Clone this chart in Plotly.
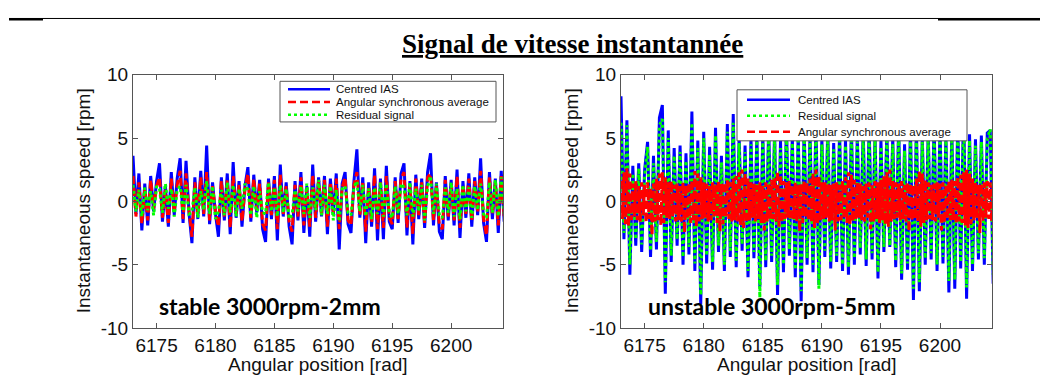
import plotly.graph_objects as go

W, H = 1048, 381
OFF = 8  # the page's body margin shifts the figure by 8 px; targets are given in window pixels

# ---------------- data ----------------
X_START = 6173.0
X_STEP = 0.25        # sampling of the IAS / residual curves and of the left average
X_STEP_FINE = 0.125  # sampling of the right-hand angular synchronous average

LEFT_IAS = [3.6, -1.0, 2.2, -2.3, 1.4, -1.9, 2.0, -0.8, 1.6, 3.0,
            -1.6, 1.2, -2.0, 2.3, -1.1, 1.8, 3.4, -1.7, 3.2, -0.9,
            -3.3, 1.9, -1.4, 2.4, -1.2, 4.4, -1.8, 1.5, -1.0, -2.8,
            1.9, -1.5, 2.2, -2.6, 3.1, -1.3, 1.6, -2.0, 1.2, 2.7,
            -1.6, 2.1, -0.9, 1.7, -2.2, -3.2, 1.8, -1.4, 2.0, -3.1,
            2.9, -1.2, 1.5, -2.0, -3.4, 1.6, -1.5, 2.3, -2.5, 1.2,
            -2.8, 2.9, -1.6, 1.9, -1.2, 2.0, -2.6, 1.8, -1.1, 2.2,
            -3.8, 1.4, 2.3, -1.8, -2.5, 1.6, 4.1, -1.3, 1.9, -3.3,
            1.5, -2.0, 2.6, -3.1, 1.8, -3.0, 2.8, -1.6, -2.2, 1.9,
            -1.7, 2.2, 3.0, -2.7, 1.6, -3.4, 2.1, -1.4, 1.8, -2.1,
            2.3, 3.8, -1.9, 1.5, -2.4, -3.0, 2.0, -1.5, 1.7, -1.9,
            2.5, -2.9, 1.6, -1.3, 2.2, -2.0, 1.9, -1.1, 3.4, -1.7,
            -3.2, 2.3, -1.4, 1.8, -2.5, 2.4, -1.6]

LEFT_ASA = [2.0, -1.2, 1.5, -1.8, 1.0, -1.5, 1.7, -0.6, 1.2, 1.9,
            -1.3, 0.9, -1.7, 1.8, -0.9, 1.3, 2.4, -1.4, 2.2, -0.7,
            -2.8, 1.5, -1.1, 1.9, -1.0, 2.3, -1.5, 1.2, -0.8, -2.0,
            1.6, -1.2, 1.7, -2.1, 2.0, -1.0, 1.3, -1.6, 0.9, 2.2,
            -1.3, 1.8, -0.7, 1.4, -1.8, -2.3, 1.5, -1.1, 1.7, -2.2,
            2.1, -1.0, 1.2, -1.6, -2.4, 1.3, -1.2, 1.9, -1.9, 1.0,
            -2.0, 2.1, -1.3, 1.6, -1.0, 1.7, -2.0, 1.5, -0.9, 1.8,
            -2.2, 1.1, 1.9, -1.5, -1.9, 1.3, 2.3, -1.1, 1.6, -2.4,
            1.2, -1.7, 2.1, -2.2, 1.5, -2.1, 2.0, -1.3, -1.8, 1.6,
            -1.4, 1.8, 2.3, -2.1, 1.3, -2.6, 1.8, -1.1, 1.5, -1.7,
            1.9, 2.2, -1.5, 1.2, -1.9, -2.2, 1.7, -1.2, 1.4, -1.5,
            2.0, -2.1, 1.3, -1.0, 1.8, -1.6, 1.6, -0.9, 2.4, -1.4,
            -2.7, 1.9, -1.1, 1.5, -1.9, 2.0, -1.3]

LEFT_RES = [1.3, -0.8, 0.9, -1.2, 1.1, -0.7, 0.8, -1.1, 1.2, 1.0,
            -0.9, 1.4, -0.6, 1.0, -1.2, 0.9, 1.2, -0.8, 1.3, -1.0,
            -0.9, 1.1, -1.3, 0.8, -0.7, 1.6, -1.0, 1.2, -1.4, -0.8,
            0.9, -1.1, 1.5, -0.9, 1.3, -1.2, 1.0, -0.6, 1.4, 0.9,
            -1.1, 1.2, -1.3, 0.8, -0.9, -1.0, 1.5, -0.8, 1.1, -1.2,
            1.3, -0.9, 1.0, -1.4, -1.1, 0.9, -0.8, 1.2, -1.0, 1.4,
            -1.3, 1.1, -0.7, 1.7, -1.1, 1.3, -1.0, 1.2, -1.5, 0.9,
            -1.6, 1.0, 1.2, -0.9, -1.1, 1.1, 1.6, -0.8, 1.3, -1.2,
            1.0, -1.4, 1.1, -1.0, 1.5, -1.2, 1.4, -0.9, -1.3, 1.2,
            -1.0, 1.4, 1.1, -1.1, 1.5, -1.2, 1.0, -0.8, 1.3, -1.5,
            1.2, 2.0, -1.0, 1.4, -1.1, -1.3, 1.1, -0.9, 1.5, -1.2,
            1.0, -1.4, 1.3, -0.8, 1.1, -1.3, 1.2, -0.7, 1.4, -1.0,
            -1.3, 1.5, -0.9, 1.7, -1.2, 1.9, -1.0]

RIGHT_IAS = [8.3, -3.0, 6.4, -5.8, 2.8, -3.5, 3.0, -4.0, 2.5, 4.7,
             -4.4, 3.6, -3.8, 6.6, 7.6, -7.3, 5.6, -4.8, 4.2, -3.5,
             4.4, -5.0, 3.8, -4.2, 7.1, -5.5, 4.8, -8.1, 5.5, -4.9,
             4.3, -5.4, 5.8, -4.0, 3.6, -5.5, 6.1, -4.4, 6.9, -5.2,
             5.2, -3.9, 4.4, -6.0, 5.0, -4.5, 5.3, -6.8, 5.4, -5.2,
             6.0, -4.8, 5.6, -7.4, 4.8, -5.6, 6.2, -4.3, 5.1, -6.0,
             5.5, -7.9, 6.0, -5.0, 5.4, -5.6, 6.3, -6.6, 5.0, -4.4,
             5.8, -5.3, 4.6, -4.8, 5.5, -5.5, 4.9, -5.8, 5.9, -5.0,
             5.2, -4.2, 5.7, -5.1, 6.0, -4.6, 5.3, -6.1, 4.8, -4.0,
             5.6, -3.6, 5.0, -5.2, 6.1, -6.2, 4.5, -5.4, 5.8, -7.8,
             6.0, -7.1, 5.2, -5.0, 5.5, -4.6, 6.2, -5.5, 5.9, -4.9,
             5.3, -7.2, 5.6, -6.9, 6.3, -5.3, 7.7, -7.7, 5.3, -5.5,
             4.9, -4.6, 5.2, -5.0, 5.4, 5.6, -6.5]

RIGHT_RES = [6.2, -2.5, 6.0, -5.0, 2.2, -3.0, 2.6, -3.4, 2.0, 4.3,
             -3.9, 3.0, -3.2, 6.0, 6.5, -6.4, 5.0, -4.3, 3.6, -3.0,
             3.9, -4.4, 3.2, -3.6, 6.2, -4.9, 4.2, -7.4, 5.0, -4.3,
             3.7, -4.8, 5.2, -3.5, 3.1, -5.0, 5.5, -3.9, 6.2, -4.7,
             4.6, -3.4, 3.9, -5.5, 4.5, -4.0, 4.8, -7.6, 4.9, -4.7,
             5.4, -4.3, 5.0, -6.6, 4.2, -5.0, 5.6, -3.8, 4.6, -5.4,
             5.0, -7.1, 5.4, -4.5, 4.9, -5.0, 5.7, -6.9, 4.5, -3.9,
             5.2, -4.8, 4.1, -4.3, 5.0, -5.0, 4.4, -5.2, 5.3, -4.5,
             4.7, -3.7, 5.1, -4.6, 5.4, -4.1, 4.8, -5.6, 4.3, -3.6,
             5.0, -3.5, 4.5, -4.7, 5.5, -5.7, 4.0, -4.9, 5.2, -6.9,
             5.4, -6.4, 4.7, -4.5, 5.0, -4.1, 5.6, -5.0, 5.3, -4.4,
             4.8, -6.3, 5.0, -6.2, 5.7, -4.8, 6.9, -6.8, 4.8, -5.0,
             4.4, -4.1, 4.7, -4.5, 4.9, 5.7, -5.8]

# one row per radian (8 samples each), 6173 .. 6204
RIGHT_ASA = [1.6, -1.4, 2.3, -1.8, 2.6, -2.0, 2.2, -1.5,
             1.4, -1.2, 1.6, -1.5, 1.2, -1.6, 1.5, -1.1,
             1.3, -1.7, 1.5, -1.4, 1.1, -2.7, 1.4, -1.6,
             1.8, -1.5, 2.2, -1.9, 2.3, -1.7, 1.9, -1.3,
             1.5, -1.4, 1.6, -1.2, 1.3, -1.6, 1.4, -1.5,
             1.2, -1.6, 1.5, -2.5, 1.3, -1.4, 1.5, -1.7,
             1.7, -1.5, 2.4, -2.0, 2.2, -1.6, 1.9, -1.4,
             1.5, -1.3, 1.4, -1.6, 1.2, -1.5, 1.5, -1.2,
             1.3, -1.7, 1.6, -2.4, 1.4, -1.8, 1.5, -1.3,
             1.7, -1.4, 1.5, -1.6, 1.8, -1.5, 2.0, -1.6,
             2.3, -1.9, 2.5, -2.1, 2.2, -1.7, 1.8, -1.5,
             1.5, -1.3, 1.4, -1.6, 1.3, -1.4, 1.5, -1.7,
             1.2, -2.3, 1.5, -1.6, 1.4, -1.5, 1.7, -1.4,
             1.9, -1.6, 2.4, -2.0, 2.1, -1.7, 1.6, -1.4,
             1.5, -1.3, 1.6, -1.5, 1.3, -1.4, 1.5, -1.6,
             1.3, -2.4, 1.4, -1.7, 1.6, -1.3, 1.5, -1.5,
             1.8, -1.6, 2.2, -2.1, 2.5, -1.8, 2.0, -1.5,
             1.6, -1.4, 1.5, -1.3, 1.4, -1.6, 1.3, -1.5,
             1.4, -2.3, 1.5, -1.6, 1.3, -1.5, 1.6, -1.4,
             1.9, -1.7, 2.3, -1.9, 2.1, -1.6, 1.7, -1.4,
             1.5, -1.3, 1.4, -1.5, 1.2, -1.6, 1.4, -1.3,
             1.5, -2.2, 1.3, -1.6, 1.6, -1.4, 1.5, -1.7,
             1.7, -1.5, 2.0, -1.8, 2.3, -2.0, 2.5, -1.6,
             1.6, -1.4, 1.5, -1.3, 1.4, -1.5, 1.6, -1.4,
             1.3, -1.6, 1.5, -2.4, 1.4, -1.5, 1.3, -1.4,
             1.8, -1.6, 2.4, -2.0, 2.2, -1.7, 1.7, -1.5,
             1.5, -1.4, 1.3, -1.5, 1.4, -1.6, 1.5, -1.3,
             1.4, -2.3, 1.5, -1.7, 1.3, -1.4, 1.6, -1.5,
             1.7, -1.5, 1.6, -1.8, 1.9, -1.6, 2.1, -1.7,
             2.3, -1.9, 2.5, -2.1, 2.2, -1.8, 1.8, -1.5,
             1.5, -1.4, 1.3, -2.5, 1.4, -1.6, 1.5, -1.3,
             1.6, -1.4, 1.5, -1.6, 1.4, -1.5, 1.3, -1.4]

XTICKS = [6175, 6180, 6185, 6190, 6195, 6200]
YTICKS = [-10, -5, 0, 5, 10]
YTICK_TEXT = ["-10", "-5", "0", "5", "10"]

TITLE = "Signal de vitesse instantannée"
NAME_IAS = "Centred IAS"
NAME_ASA = "Angular synchronous average"
NAME_RES = "Residual signal"
XLABEL = "Angular position [rad]"
YLABEL = "Instantaneous speed [rpm]"
LABEL_LEFT = "stable 3000rpm-2mm"
LABEL_RIGHT = "unstable 3000rpm-5mm"

# ---------------- styles ----------------
BLUE = "rgb(0,0,255)"
RED = "rgb(255,0,0)"
GREEN = "rgb(0,255,0)"
LW = 3
STYLE = {
    "ias": dict(color=BLUE, width=LW, dash="solid"),
    "asa": dict(color=RED, width=LW, dash="8px,4px"),
    "res": dict(color=GREEN, width=LW, dash="3px,3px"),
}
SANS = "Liberation Sans, Arial, sans-serif"
AXIS_GREY = "#555"


def px(x):
    """window pixel x -> paper fraction"""
    return (x - OFF) / W


def py(y):
    """window pixel y (from top) -> paper fraction"""
    return 1 - (y - OFF) / H


def xs(n, step):
    return [X_START + step * i for i in range(n)]


fig = go.Figure()

# left panel: blue, red, green (green drawn last)
for name, vals, key in [(NAME_IAS, LEFT_IAS, "ias"), (NAME_ASA, LEFT_ASA, "asa"),
                        (NAME_RES, LEFT_RES, "res")]:
    fig.add_trace(go.Scatter(x=xs(len(vals), X_STEP), y=vals, mode="lines", name=name,
                             line=STYLE[key], xaxis="x", yaxis="y", showlegend=False))
# right panel: blue, green, red (red drawn last)
for name, vals, key, step in [(NAME_IAS, RIGHT_IAS, "ias", X_STEP),
                              (NAME_RES, RIGHT_RES, "res", X_STEP),
                              (NAME_ASA, RIGHT_ASA, "asa", X_STEP_FINE)]:
    fig.add_trace(go.Scatter(x=xs(len(vals), step), y=vals, mode="lines", name=name,
                             line=STYLE[key], xaxis="x2", yaxis="y2", showlegend=False))

axis_common = dict(showline=True, linecolor=AXIS_GREY, linewidth=1, mirror="ticks",
                   ticks="inside", ticklen=5, tickcolor=AXIS_GREY, tickwidth=1,
                   showgrid=False, zeroline=False,
                   tickfont=dict(family=SANS, size=19, color="#111"))

PLOT_TOP, PLOT_BOT = 68, 336
LEFT_X = (133, 503)
RIGHT_X = (621, 992)
XRANGE = [6173.0, 6204.4]

fig.update_layout(
    width=W, height=H, margin=dict(l=0, r=0, t=0, b=0),
    paper_bgcolor="white", plot_bgcolor="white", showlegend=False,
    xaxis=dict(domain=[px(LEFT_X[0]), px(LEFT_X[1])], range=XRANGE,
               tickvals=XTICKS, anchor="y", ticklabelstandoff=0, **axis_common),
    yaxis=dict(domain=[py(PLOT_BOT), py(PLOT_TOP)], range=[-10, 10],
               tickvals=YTICKS, ticktext=YTICK_TEXT, anchor="x", **axis_common),
    xaxis2=dict(domain=[px(RIGHT_X[0]), px(RIGHT_X[1])], range=XRANGE,
                tickvals=XTICKS, anchor="y2", ticklabelstandoff=0, **axis_common),
    yaxis2=dict(domain=[py(PLOT_BOT), py(PLOT_TOP)], range=[-10, 10],
                tickvals=YTICKS, ticktext=YTICK_TEXT, anchor="x2", **axis_common),
)

shapes = []
annotations = []

# top rules of the page
shapes.append(dict(type="line", xref="paper", yref="paper", x0=px(9), x1=px(1048),
                   y0=py(8.5), y1=py(8.5), line=dict(color="black", width=1)))
shapes.append(dict(type="line", xref="paper", yref="paper", x0=px(9), x1=px(43),
                   y0=py(9.3), y1=py(9.3), line=dict(color="black", width=2.4)))
shapes.append(dict(type="line", xref="paper", yref="paper", x0=px(938), x1=px(1048),
                   y0=py(9.3), y1=py(9.3), line=dict(color="black", width=2.4)))

# underlined title
annotations.append(dict(text="<b><u>" + TITLE + "</u></b>", xref="paper", yref="paper",
                        x=px(572), y=py(36), xanchor="center", yanchor="middle",
                        showarrow=False,
                        font=dict(family="Liberation Serif, Times New Roman, serif",
                                  size=27, color="black")))

# axis titles and panel labels
for (x0, x1), lab, labx in [(LEFT_X, LABEL_LEFT, 157), (RIGHT_X, LABEL_RIGHT, 646)]:
    cx = (x0 + x1) / 2
    annotations.append(dict(text=XLABEL, xref="paper", yref="paper", x=px(cx), y=py(375),
                            xanchor="center", yanchor="middle", showarrow=False,
                            font=dict(family=SANS, size=19, color="#111")))
    annotations.append(dict(text=YLABEL, xref="paper", yref="paper", x=px(x0 - 50),
                            y=py(202), xanchor="center", yanchor="middle", textangle=-90,
                            showarrow=False, font=dict(family=SANS, size=19, color="#111")))
    annotations.append(dict(text="<b>" + lab + "</b>", xref="paper", yref="paper",
                            x=px(labx), y=py(313), xanchor="left", yanchor="middle",
                            showarrow=False,
                            font=dict(family="Lato, Carlito, sans-serif", size=23,
                                      color="black")))

# legends (boxes with line samples, one per panel)
LEGENDS = [
    dict(box=(280, 75, 496, 118), rows=[83.5, 97, 110.5], line_x=(288, 330), text_x=334,
         items=[(NAME_IAS, "ias"), (NAME_ASA, "asa"), (NAME_RES, "res")]),
    dict(box=(737, 84, 967, 138), rows=[94.5, 111.5, 128.5], line_x=(747, 790), text_x=796,
         items=[(NAME_IAS, "ias"), (NAME_RES, "res"), (NAME_ASA, "asa")]),
]
for lg in LEGENDS:
    bx0, by0, bx1, by1 = lg["box"]
    shapes.append(dict(type="rect", xref="paper", yref="paper", x0=px(bx0), x1=px(bx1),
                       y0=py(by1), y1=py(by0), fillcolor="white",
                       line=dict(color=AXIS_GREY, width=1), layer="above"))
    for ry, (name, key) in zip(lg["rows"], lg["items"]):
        st = STYLE[key]
        shapes.append(dict(type="line", xref="paper", yref="paper",
                           x0=px(lg["line_x"][0]), x1=px(lg["line_x"][1]),
                           y0=py(ry), y1=py(ry), layer="above",
                           line=dict(color=st["color"], width=2.5, dash=st["dash"])))
        annotations.append(dict(text=name, xref="paper", yref="paper", x=px(lg["text_x"]),
                                y=py(ry), xanchor="left", yanchor="middle", showarrow=False,
                                font=dict(family=SANS, size=11.5, color="#111")))

fig.update_layout(shapes=shapes, annotations=annotations)
fig.write_html("out.html")
